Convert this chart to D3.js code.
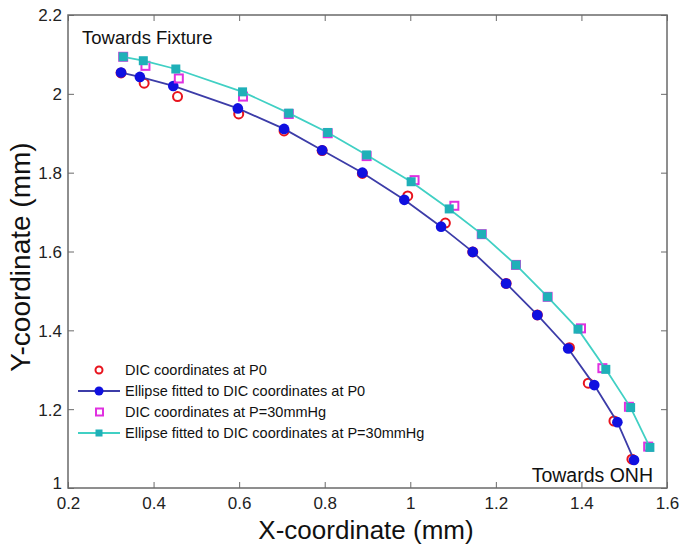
<!DOCTYPE html>
<html><head><meta charset="utf-8">
<script src="https://cdn.jsdelivr.net/npm/d3@7"></script>
<style>body{margin:0;background:#fff}svg{display:block}text{font-family:"Liberation Sans",Arial,sans-serif}</style>
</head><body>
<svg id="c" width="687" height="552"></svg>
<script>
const xTicks = [0.2,0.4,0.6,0.8,1.0,1.2,1.4,1.6];
const yTicks = [1.0,1.2,1.4,1.6,1.8,2.0,2.2];
const seriesNames = ["DIC coordinates at P0","Ellipse fitted to DIC coordinates at P0","DIC coordinates at P=30mmHg","Ellipse fitted to DIC coordinates at P=30mmHg"];
const dicP0X = [0.324,0.378,0.456,0.599,0.705,0.794,0.888,0.994,1.082,1.146,1.224,1.297,1.372,1.416,1.476,1.518];
const dicP0Y = [2.053,2.027,1.993,1.949,1.906,1.856,1.798,1.741,1.672,1.599,1.519,1.439,1.356,1.266,1.170,1.073];
const fitP0X = [0.324,0.368,0.446,0.597,0.705,0.794,0.888,0.986,1.072,1.146,1.224,1.297,1.369,1.430,1.484,1.523];
const fitP0Y = [2.054,2.043,2.020,1.963,1.911,1.857,1.800,1.731,1.663,1.599,1.519,1.439,1.354,1.261,1.167,1.071];
const dicP30X = [0.329,0.381,0.459,0.609,0.716,0.807,0.898,1.010,1.103,1.167,1.247,1.321,1.399,1.449,1.511,1.556];
const dicP30Y = [2.094,2.071,2.039,1.993,1.949,1.900,1.842,1.781,1.716,1.644,1.566,1.485,1.405,1.304,1.206,1.105];
const fitP30X = [0.329,0.376,0.452,0.608,0.716,0.807,0.898,1.002,1.091,1.167,1.247,1.321,1.392,1.457,1.515,1.560];
const fitP30Y = [2.094,2.084,2.063,2.005,1.951,1.902,1.845,1.777,1.708,1.644,1.566,1.485,1.403,1.301,1.204,1.103];

const svg = d3.select("#c");
const L=68,R=667,T=15,B=488;
const x = d3.scaleLinear().domain([0.2,1.6]).range([L,R]);
const y = d3.scaleLinear().domain([1.0,2.2]).range([B,T]);
const axisColor="#6a6a6a";
const fmt = d => d3.format("~g")(d);

svg.append("rect").attr("x",L).attr("y",T).attr("width",R-L).attr("height",B-T)
  .attr("fill","none").attr("stroke",axisColor).attr("stroke-width",1.5);

const gB = svg.append("g").attr("transform",`translate(0,${B})`)
  .call(d3.axisBottom(x).tickValues(xTicks).tickSizeInner(-6).tickSizeOuter(0).tickPadding(10).tickFormat(fmt));
const gT = svg.append("g").attr("transform",`translate(0,${T})`)
  .call(d3.axisTop(x).tickValues(xTicks).tickSizeInner(-6).tickSizeOuter(0).tickFormat(""));
const gL = svg.append("g").attr("transform",`translate(${L},0)`)
  .call(d3.axisLeft(y).tickValues(yTicks).tickSizeInner(-6).tickSizeOuter(0).tickPadding(6).tickFormat(fmt));
const gR = svg.append("g").attr("transform",`translate(${R},0)`)
  .call(d3.axisRight(y).tickValues(yTicks).tickSizeInner(-6).tickSizeOuter(0).tickFormat(""));
[gB,gT,gL,gR].forEach(g=>{
  g.select(".domain").remove();
  g.selectAll(".tick line").attr("stroke",axisColor);
  g.selectAll("text").attr("fill","#222").style("font-size","17px").style("font-family","Liberation Sans, Arial, sans-serif");
});
gB.selectAll("text").attr("dy","0.66em");
gL.selectAll("text").attr("dy",d=>d===1?"0.05em":"0.35em");

svg.append("text").attr("x",366).attr("y",539).attr("text-anchor","middle")
  .style("font-size","26px").attr("fill","#111").text("X-coordinate (mm)");
svg.append("text").attr("transform",`translate(30,257) rotate(-90)`).attr("text-anchor","middle")
  .style("font-size","28px").attr("fill","#111").text("Y-coordinate (mm)");

svg.append("text").attr("x",82).attr("y",44).style("font-size","18.5px").attr("fill","#111").text("Towards Fixture");
svg.append("text").attr("x",653).attr("y",482).attr("text-anchor","end").style("font-size","19.5px").attr("fill","#111").text("Towards ONH");

const line = d3.line().x(d=>x(d[0])).y(d=>y(d[1]));
const zip = (a,b)=>a.map((v,i)=>[v,b[i]]);
const red="#e8141e", blue="#1010e0", blueLine="#3c3ca8", mag="#e030e0", cyanLine="#40d0c4", cyanFill="#1fb0b8";

svg.append("g").selectAll("circle").data(zip(dicP0X,dicP0Y)).join("circle")
  .attr("cx",d=>x(d[0])).attr("cy",d=>y(d[1])).attr("r",4.5)
  .attr("fill","none").attr("stroke",red).attr("stroke-width",2);
svg.append("path").datum(zip(fitP0X,fitP0Y)).attr("d",line).attr("fill","none").attr("stroke",blueLine).attr("stroke-width",1.8);
svg.append("g").selectAll("circle").data(zip(fitP0X,fitP0Y)).join("circle")
  .attr("cx",d=>x(d[0])).attr("cy",d=>y(d[1])).attr("r",5.3).attr("fill",blue);
svg.append("g").selectAll("rect").data(zip(dicP30X,dicP30Y)).join("rect")
  .attr("x",d=>x(d[0])-4).attr("y",d=>y(d[1])-4).attr("width",8).attr("height",8)
  .attr("fill","none").attr("stroke",mag).attr("stroke-width",2);
svg.append("path").datum(zip(fitP30X,fitP30Y)).attr("d",line).attr("fill","none").attr("stroke",cyanLine).attr("stroke-width",1.8);
svg.append("g").selectAll("rect").data(zip(fitP30X,fitP30Y)).join("rect")
  .attr("x",d=>x(d[0])-4.5).attr("y",d=>y(d[1])-4.5).attr("width",9).attr("height",9).attr("fill",cyanFill);

const lg = svg.append("g");
const ly = [370,391,412,433];
seriesNames.forEach((n,i)=>{
  const yy = ly[i];
  if(i===1||i===3){
    lg.append("line").attr("x1",78).attr("x2",120).attr("y1",yy).attr("y2",yy)
      .attr("stroke",i===1?blueLine:cyanLine).attr("stroke-width",1.8);
  }
  if(i===0) lg.append("circle").attr("cx",99).attr("cy",yy).attr("r",3.5).attr("fill","none").attr("stroke",red).attr("stroke-width",2);
  if(i===1) lg.append("circle").attr("cx",99).attr("cy",yy).attr("r",4.5).attr("fill",blue);
  if(i===2) lg.append("rect").attr("x",96).attr("y",yy-3.5).attr("width",7).attr("height",7).attr("fill","none").attr("stroke",mag).attr("stroke-width",2);
  if(i===3) lg.append("rect").attr("x",95.5).attr("y",yy-3.5).attr("width",7).attr("height",7).attr("fill",cyanFill);
  lg.append("text").attr("x",125).attr("y",yy).attr("dy","0.35em").style("font-size","14.5px").attr("fill","#111").text(n);
});
</script>
</body></html>
